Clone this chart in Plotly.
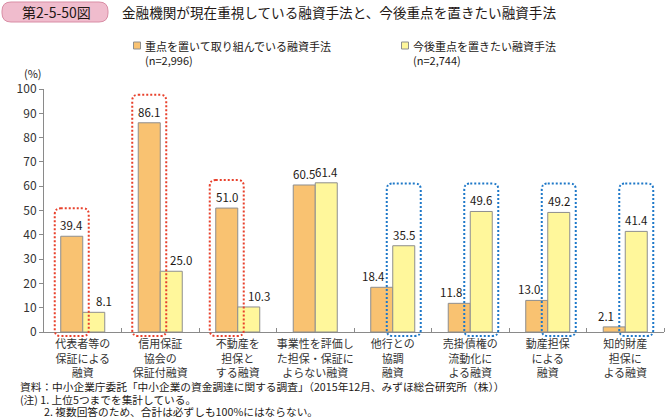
import plotly.graph_objects as go

categories = [
    "代表者等の<br>保証による<br>融資",
    "信用保証<br>協会の<br>保証付融資",
    "不動産を<br>担保と<br>する融資",
    "事業性を評価し<br>た担保・保証に<br>よらない融資",
    "他行との<br>協調<br>融資",
    "売掛債権の<br>流動化に<br>よる融資",
    "動産担保<br>による<br>融資",
    "知的財産<br>担保に<br>よる融資",
]
current_focus = [39.4, 86.1, 51.0, 60.5, 18.4, 11.8, 13.0, 2.1]
future_focus = [8.1, 25.0, 10.3, 61.4, 35.5, 49.6, 49.2, 41.4]
series_names = ["重点を置いて取り組んでいる融資手法", "今後重点を置きたい融資手法"]
series_n = ["(n=2,996)", "(n=2,744)"]
red_highlight = [0, 1, 2]      # current-focus bars highlighted
blue_highlight = [4, 5, 6, 7]  # future-focus bars highlighted

FONT = "Noto Sans CJK JP"
TXT = "#231815"
W, H = 667, 420
L, R, T, B = 44, 3, 89, 88
PW, PH = W - L - R, H - T - B
YMAX = 100
NCAT = len(categories)
BARGAP = 0.432
BAR_W = (1 - BARGAP) / 2


def px(x):
    return (x - L) / PW


def py(y):
    return (H - B - y) / PH


def dx(v):  # data x -> pixel
    return L + (v + 0.5) * PW / NCAT


def dy(v):  # data y -> pixel
    return H - B - v * PH / YMAX


def rounded(x0, y0, x1, y1, r):
    # pixel coords -> paper path with rounded corners
    pts = [
        f"M {px(x0 + r)} {py(y0)}",
        f"L {px(x1 - r)} {py(y0)}",
        f"Q {px(x1)} {py(y0)} {px(x1)} {py(y0 + r)}",
        f"L {px(x1)} {py(y1 - r)}",
        f"Q {px(x1)} {py(y1)} {px(x1 - r)} {py(y1)}",
        f"L {px(x0 + r)} {py(y1)}",
        f"Q {px(x0)} {py(y1)} {px(x0)} {py(y1 - r)}",
        f"L {px(x0)} {py(y0 + r)}",
        f"Q {px(x0)} {py(y0)} {px(x0 + r)} {py(y0)}",
        "Z",
    ]
    return " ".join(pts)


xs = list(range(NCAT))
colors = ["#F9C271", "#FFF79B"]

fig = go.Figure()
for name, vals, col in zip(series_names, [current_focus, future_focus], colors):
    fig.add_trace(go.Bar(
        x=xs, y=vals, name=name,
        marker=dict(color=col, line=dict(color="#8E8E8E", width=1)),
        showlegend=False, hoverinfo="skip",
    ))

shapes = []
annotations = []
box_half = 17
top_pad = 28
for i in red_highlight:
    cx = dx(i - BAR_W / 2)
    shapes.append(dict(type="path", xref="paper", yref="paper",
                       path=rounded(cx - box_half, dy(current_focus[i]) - top_pad,
                                    cx + box_half, dy(0) + 4, 6),
                       line=dict(color="#E8412C", width=2, dash="2px,2px")))
blue_top = dy(max(future_focus[i] for i in blue_highlight)) - top_pad
for i in blue_highlight:
    cx = dx(i + BAR_W / 2)
    shapes.append(dict(type="path", xref="paper", yref="paper",
                       path=rounded(cx - box_half, blue_top,
                                    cx + box_half, dy(0) + 4, 6),
                       line=dict(color="#1E78C8", width=2, dash="2px,2px")))

# value labels (nudged sideways away from the dotted boxes, as in the original)
for i in xs:
    annotations.append(dict(
        x=i - BAR_W / 2, y=current_focus[i], xref="x", yref="y",
        text=f"{current_focus[i]:.1f}", showarrow=False, yanchor="bottom",
        xshift=-8 if i in blue_highlight else 0, yshift=1,
        font=dict(family=FONT, size=11.5, color=TXT)))
    annotations.append(dict(
        x=i + BAR_W / 2, y=future_focus[i], xref="x", yref="y",
        text=f"{future_focus[i]:.1f}", showarrow=False, yanchor="bottom",
        xshift=10 if i in red_highlight else 0, yshift=1,
        font=dict(family=FONT, size=11.5, color=TXT)))

# title badge
shapes.append(dict(type="path", xref="paper", yref="paper",
                   path=rounded(2, 2, 108, 22, 9),
                   fillcolor="#F0BCCD", line=dict(color="#D98DA5", width=1)))

annotations += [
    dict(text="第2-5-50図", x=px(56), y=py(12), xref="paper", yref="paper",
         showarrow=False, font=dict(family=FONT, size=14, color=TXT),
         xanchor="center", yanchor="middle"),
    dict(text="金融機関が現在重視している融資手法と、今後重点を置きたい融資手法",
         x=px(120), y=py(12), xref="paper", yref="paper", showarrow=False,
         font=dict(family=FONT, size=13.6, color=TXT), xanchor="left", yanchor="middle"),
    dict(text="(%)", x=px(22), y=py(73), xref="paper", yref="paper", showarrow=False,
         font=dict(family=FONT, size=11, color=TXT), xanchor="left", yanchor="middle"),
    dict(text="資料：中小企業庁委託「中小企業の資金調達に関する調査」（2015年12月、みずほ総合研究所（株））",
         x=px(18), y=py(386.5), xref="paper", yref="paper", showarrow=False,
         font=dict(family=FONT, size=10.7, color=TXT), xanchor="left", yanchor="middle"),
    dict(text="(注) 1. 上位5つまでを集計している。",
         x=px(18), y=py(399), xref="paper", yref="paper", showarrow=False,
         font=dict(family=FONT, size=10.7, color=TXT), xanchor="left", yanchor="middle"),
    dict(text="2. 複数回答のため、合計は必ずしも100%にはならない。",
         x=px(42), y=py(411.5), xref="paper", yref="paper", showarrow=False,
         font=dict(family=FONT, size=10.7, color=TXT), xanchor="left", yanchor="middle"),
]

# legend (manual)
legend_x = [137, 405]
for lx, name, n, col in zip(legend_x, series_names, series_n, colors):
    shapes.append(dict(type="rect", xref="paper", yref="paper",
                       x0=px(lx - 3.5), x1=px(lx + 3.5), y0=py(42), y1=py(49),
                       fillcolor=col, line=dict(color="#8E8E8E", width=1)))
    annotations.append(dict(text=name, x=px(lx + 6), y=py(45.5), xref="paper", yref="paper",
                            showarrow=False, xanchor="left", yanchor="middle",
                            font=dict(family=FONT, size=11, color=TXT)))
    annotations.append(dict(text=n, x=px(lx + 6), y=py(59.5), xref="paper", yref="paper",
                            showarrow=False, xanchor="left", yanchor="middle",
                            font=dict(family=FONT, size=11, color=TXT)))

fig.update_layout(
    width=W, height=H,
    margin=dict(l=L, r=R, t=T, b=B),
    paper_bgcolor="white", plot_bgcolor="white",
    barmode="group", bargap=BARGAP, bargroupgap=0,
    font=dict(family=FONT, color=TXT),
    shapes=shapes, annotations=annotations,
    xaxis=dict(
        range=[-0.5, NCAT - 0.5], tickmode="array", tickvals=xs, ticktext=categories,
        ticks="", showline=True, linecolor="#8A8A8A", linewidth=1, showgrid=False,
        zeroline=False, tickfont=dict(family=FONT, size=11, color="#333333"),
        ticklabelstandoff=2,
        minor=dict(tickmode="array", tickvals=[i + 0.5 for i in range(NCAT)],
                   ticks="inside", ticklen=4, tickcolor="#8A8A8A", showgrid=False),
    ),
    yaxis=dict(
        range=[0, YMAX], dtick=10, ticks="outside", ticklen=4, tickcolor="#8A8A8A",
        showline=True, linecolor="#8A8A8A", linewidth=1, showgrid=False, zeroline=False,
        tickfont=dict(family=FONT, size=12, color="#333333"),
    ),
)

fig.write_html("out.html", config={"displayModeBar": False},
               post_script="document.body.style.margin='0';document.body.style.padding='0';")
